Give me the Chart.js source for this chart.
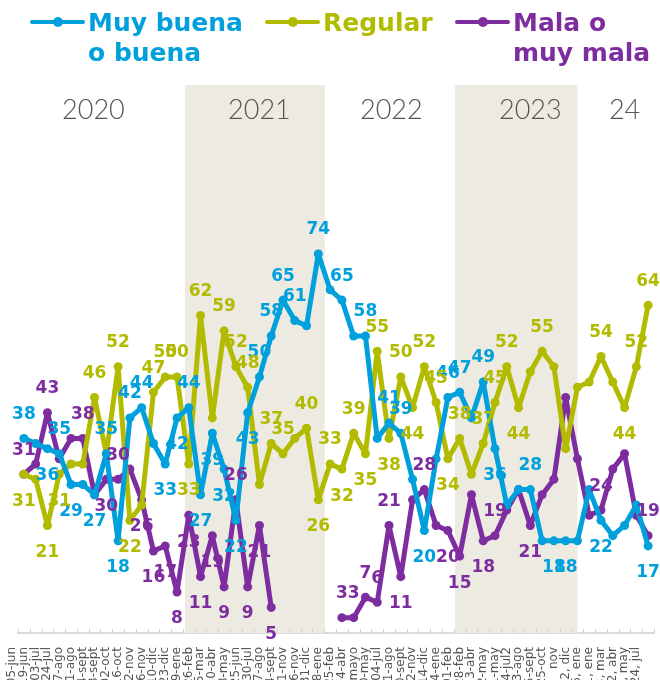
<!DOCTYPE html>
<html>
<head>
<meta charset="utf-8">
<script src="https://cdn.jsdelivr.net/npm/chart.js@4.4.1/dist/chart.umd.min.js"></script>
<style>
html,body{margin:0;padding:0;background:#fff;overflow:hidden;}
#wrap{position:relative;width:660px;height:680px;}
#chart{position:absolute;left:0;top:0;}
.lg{position:absolute;top:0;font-family:"DejaVu Sans";font-weight:bold;font-size:25px;}
.lg .line{position:absolute;left:0;top:20px;width:55px;height:4px;border-radius:2px;}
.lg .dot{position:absolute;left:23px;top:17px;width:10px;height:10px;border-radius:50%;}
.lg .txt{position:absolute;left:58px;top:8px;line-height:30px;white-space:nowrap;}
</style>
</head>
<body>
<div id="wrap">
<canvas id="chart" width="660" height="680"></canvas>

<div class="lg" style="left:30px;color:#00A0DC">
<div class="line" style="background:#00A0DC"></div><div class="dot" style="background:#00A0DC"></div>
<div class="txt">Muy buena<br>o buena</div>
</div>
<div class="lg" style="left:265px;color:#B2BB00">
<div class="line" style="background:#B2BB00"></div><div class="dot" style="background:#B2BB00"></div>
<div class="txt">Regular</div>
</div>
<div class="lg" style="left:455px;color:#7E2DA0">
<div class="line" style="background:#7E2DA0"></div><div class="dot" style="background:#7E2DA0"></div>
<div class="txt">Mala o<br>muy mala</div>
</div>
</div>

<script>
/* dates of each survey */
const fechas = [
"05-jun","19-jun","03-jul","24-jul","07-ago","21-ago","04-sept","18-sept","02-oct","16-oct","12-nov","26-nov","10-dic","23-dic",
"29-ene","26-feb","25-mar","30-abr","28-may","25-jun","30-jul","27-ago","24-sept","11-nov","26-nov","31-dic",
"28-ene","25-feb","04-abr","mayo","20-may","04-jul","01-ago","30-sept","02-nov","14-dic","24-ene",
"01-feb","28-feb","23-abr","22-may","31-may","14-jul2","13-ago","25-sept","25-oct","nov","2, dic",
"26, ene","31, ene","28, mar","22, abr","31, may","24, jul"
];

const muyBuena = [38,37,36,35,29,29,27,35,18,42,44,37,33,42,44,27,39,32,22,43,50,58,65,61,60,74,67,65,58,58,38,41,39,30,20,34,46,47,42,49,36,25,28,28,18,18,18,18,28,22,19,21,25,17];
const regular  = [31,30,21,31,33,33,46,35,52,22,25,47,50,50,33,62,42,59,52,48,29,37,35,38,40,26,33,32,39,35,55,38,50,44,52,45,34,38,31,37,45,52,44,51,55,52,36,48,49,54,49,44,52,64];
const mala     = [31,33,43,34,38,38,27,30,30,32,26,16,17,8,23,11,19,9,26,9,21,5,null,null,null,null,null,3,3,7,6,21,11,26,28,21,20,15,27,18,19,24,28,21,27,30,46,34,23,24,32,35,23,19];

/* where the value label sits: a = above, b = below, . = none */
const muyBuenaLbl = "a.bab.baba"+"a.bbabbbbb"+"aaaa.a.a.a"+".aa.b.aa.a"+"b..a.bb..b"+"...b";
const regularLbl  = "b.bb..a.ab"+".aaaba.aaa"+".aa.ababab"+"ababaaba.a"+"aab.a....a"+".baa";
const malaLbl     = "a.a..a.ba."+"bbbbbbbbab"+"bb.....aaa"+"aab.a.bb.b"+"a..b.....a"+"...a";

/* year bands and year names, in category units */
const years = ["2020","2021","2022","2023","24"];
const yearPos = [5.9,20.0,31.2,43.0,51.0];
const shaded = [[13.67,25.55],[36.6,47.0]];

const BLUE = "#00A0DC";
const OLIVE = "#B2BB00";
const PURPLE = "#7E2DA0";

const bandsPlugin = {
id:"bands",
beforeDatasetsDraw(chart){
const ctx = chart.ctx;
const x = chart.scales.x;
const area = chart.chartArea;
ctx.save();
ctx.fillStyle = "#EDEBE1";
shaded.forEach(b=>{
const x0 = x.getPixelForValue(b[0]);
const x1 = x.getPixelForValue(b[1]);
ctx.fillRect(x0, area.top, x1-x0, area.bottom-area.top);
});
ctx.fillStyle = "#555";
ctx.font = "300 27px Lato";
ctx.textAlign = "center";
ctx.textBaseline = "middle";
years.forEach((y,i)=>{
ctx.fillText(y, x.getPixelForValue(yearPos[i]), area.top+25);
});
// small tick marks on the axis line
ctx.strokeStyle = "#d0d0d0";
ctx.lineWidth = 1;
for(let k=0;k<=fechas.length;k++){
const px = Math.round(x.getPixelForValue(k-0.5))+0.5;
ctx.beginPath();
ctx.moveTo(px, area.bottom-4);
ctx.lineTo(px, area.bottom);
ctx.stroke();
}
ctx.restore();
}
};

const valuesPlugin = {
id:"values",
afterDatasetsDraw(chart){
const ctx = chart.ctx;
ctx.save();
ctx.font = "bold 17px 'DejaVu Sans'";
ctx.textAlign = "center";
ctx.textBaseline = "middle";
chart.data.datasets.forEach((ds,d)=>{
const meta = chart.getDatasetMeta(d);
ctx.fillStyle = ds.borderColor;
meta.data.forEach((pt,i)=>{
const v = ds.data[i];
const where = ds.lbl[i];
if(v === null || where === ".") return;
const dy = where === "a" ? -24 : 27;
ctx.fillText(String(v), pt.x, pt.y+dy);
});
});
ctx.restore();
}
};

new Chart(document.getElementById("chart"),{
type:"line",
data:{
labels:fechas,
datasets:[
{label:"Muy buena o buena",data:muyBuena,borderColor:BLUE,backgroundColor:BLUE,lbl:muyBuenaLbl},
{label:"Regular",data:regular,borderColor:OLIVE,backgroundColor:OLIVE,lbl:regularLbl},
{label:"Mala o muy mala",data:mala,borderColor:PURPLE,backgroundColor:PURPLE,lbl:malaLbl}
]
},
options:{
responsive:false,
animation:false,
devicePixelRatio:1,
layout:{padding:{top:85,left:18,right:6,bottom:0}},
plugins:{legend:{display:false},tooltip:{enabled:false}},
elements:{
line:{borderWidth:5,tension:0,borderJoinStyle:"round",borderCapStyle:"round",spanGaps:false},
point:{radius:4.5,borderWidth:0,hoverRadius:4.5}
},
scales:{
x:{
offset:true,
grid:{display:false},
border:{display:true,color:"#dcdcdc",width:2},
ticks:{autoSkip:false,minRotation:90,maxRotation:90,padding:6,labelOffset:-12,
font:{family:"DejaVu Sans",size:12},color:"#555"},
afterFit(s){ s.height = 47; s.paddingLeft = 0; s.paddingRight = 0; }
},
y:{display:false,min:0,max:107}
}
},
plugins:[bandsPlugin,valuesPlugin]
});
</script>
</body>
</html>
